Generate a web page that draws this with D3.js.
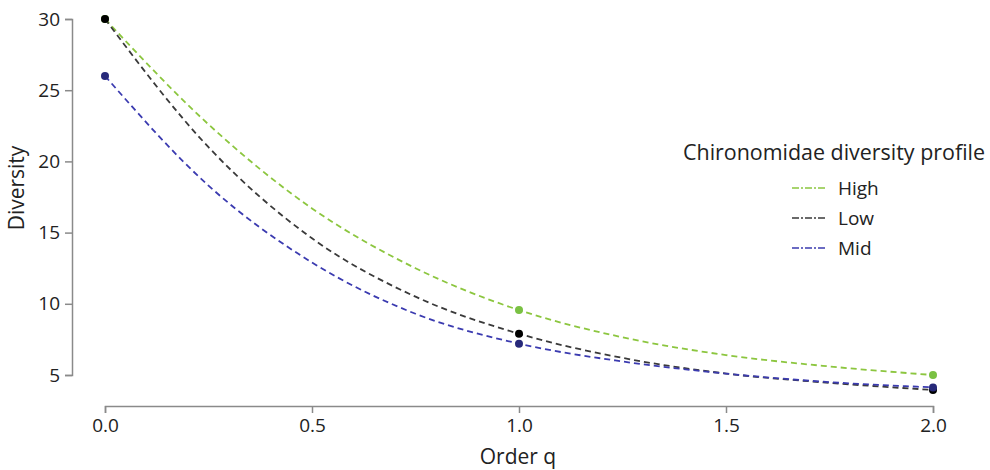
<!DOCTYPE html>
<html>
<head>
<meta charset="utf-8">
<script src="https://cdn.jsdelivr.net/npm/d3@7"></script>
<style>
  html, body { margin: 0; padding: 0; background: #fff; }
  svg { display: block; font-family: "Open Sans", "Noto Sans", sans-serif; }
</style>
</head>
<body>
<svg id="chart" width="990" height="470"></svg>
<script>
// ---- data ----
const orderQ = [0, 0.25, 0.5, 0.75, 1, 1.25, 1.5, 1.75, 2];
const highValues = [30, 22.6, 16.7, 12.5, 9.56, 7.65, 6.4, 5.6, 5.0];
const lowValues  = [30, 21.0, 14.6, 10.5, 7.9, 6.2, 5.1, 4.45, 3.95];
const midValues  = [26, 18.3, 12.9, 9.3, 7.2, 5.95, 5.1, 4.5, 4.13];
const markedQ = [0, 1, 2];
const seriesNames = ["High", "Low", "Mid"];
const xTicks = [0, 0.5, 1, 1.5, 2];
const yTicks = [5, 10, 15, 20, 25, 30];
const legendTitle = "Chironomidae diversity profile";
const xTitle = "Order q";
const yTitle = "Diversity";

const series = [
  { name: seriesNames[0], values: highValues, line: "#8cc63f", dot: "#7ac143" },
  { name: seriesNames[1], values: lowValues,  line: "#3a3a3a", dot: "#000000" },
  { name: seriesNames[2], values: midValues,  line: "#3b3bb0", dot: "#27297a" }
];

const svg = d3.select("#chart");
const x = d3.scaleLinear().domain([0, 2]).range([105, 933]);
const y = d3.scaleLinear().domain([5, 30]).range([375, 19]);
const axisColor = "#8a8a8a";

// x axis
const xAxis = svg.append("g").attr("transform", "translate(0,406)")
  .call(d3.axisBottom(x).tickValues(xTicks).tickFormat(d3.format(".1f")).tickSize(7).tickPadding(6));
// y axis
const yAxis = svg.append("g").attr("transform", "translate(72,0)")
  .call(d3.axisLeft(y).tickValues(yTicks).tickSize(7).tickPadding(5));

[xAxis, yAxis].forEach(g => {
  g.select(".domain").attr("stroke", axisColor).attr("stroke-width", 1.5);
  g.selectAll(".tick line").attr("stroke", axisColor).attr("stroke-width", 1.5);
  g.selectAll(".tick text").attr("fill", "#222").attr("font-size", 19)
    .attr("font-family", "'Open Sans', sans-serif");
});

// titles
svg.append("text").attr("x", 518).attr("y", 464).attr("text-anchor", "middle")
  .attr("font-size", 21).attr("fill", "#222").text(xTitle);
svg.append("text").attr("transform", "translate(24,188) rotate(-90)")
  .attr("text-anchor", "middle").attr("font-size", 21).attr("fill", "#222").text(yTitle);

// lines
const line = d3.line().x((d, i) => x(orderQ[i])).y(d => y(d)).curve(d3.curveMonotoneX);
series.forEach(s => {
  svg.append("path").datum(s.values).attr("d", line)
    .attr("fill", "none").attr("stroke", s.line).attr("stroke-width", 1.8)
    .attr("stroke-dasharray", "6,4");
});
// points
series.forEach(s => {
  svg.append("g").selectAll("circle")
    .data(orderQ.map((q, i) => ({ q, v: s.values[i] })).filter(d => markedQ.includes(d.q)))
    .join("circle")
    .attr("cx", d => x(d.q)).attr("cy", d => y(d.v)).attr("r", 4)
    .attr("fill", s.dot);
});

// legend
svg.append("text").attr("x", 683).attr("y", 160).attr("font-size", 21.5).attr("fill", "#222")
  .attr("textLength", 302).attr("lengthAdjust", "spacingAndGlyphs")
  .text(legendTitle);
const leg = svg.append("g").selectAll("g").data(series).join("g")
  .attr("transform", (d, i) => `translate(792,${188 + i * 30})`);
leg.append("line").attr("x1", 0).attr("x2", 35).attr("y1", 0).attr("y2", 0)
  .attr("stroke", d => d.line).attr("stroke-width", 1.6).attr("stroke-dasharray", "7,2,2,2");
leg.append("text").attr("x", 46).attr("y", 7).attr("font-size", 19).attr("fill", "#222")
  .text(d => d.name);
</script>
</body>
</html>
